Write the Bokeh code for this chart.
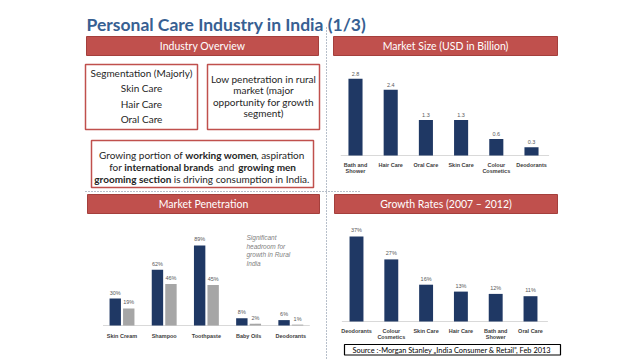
from bokeh.plotting import figure
from bokeh.models import Range1d, ColumnDataSource
from bokeh.core.properties import value
from bokeh.transform import dodge
from bokeh.embed import file_html
from bokeh.resources import INLINE

# ---------------- data ----------------
size_cats = ["Bath and\nShower", "Hair Care", "Oral Care", "Skin Care", "Colour\nCosmetics", "Deodorants"]
size_vals = [2.8, 2.4, 1.3, 1.3, 0.6, 0.3]
size_labels = ["2.8", "2.4", "1.3", "1.3", "0.6", "0.3"]

pen_cats = ["Skin Cream", "Shampoo", "Toothpaste", "Baby Oils", "Deodorants"]
pen_urban = [30, 62, 89, 8, 6]
pen_rural = [19, 46, 45, 2, 1]

growth_cats = ["Deodorants", "Colour\nCosmetics", "Skin Care", "Hair Care", "Bath and\nShower", "Oral Care"]
growth_vals = [37, 27, 16, 13, 12, 11]

# ---------------- styles ----------------
NAVY = "#1F3864"
GREY_BAR = "#A6A6A6"
RED = "#C0504D"
RED_EDGE = "#A43F3C"
TXT = "#262626"
SANS = value("Lato")
ARIAL = value("Liberation Sans")

p = figure(width=638, height=359, x_range=Range1d(0, 638), y_range=Range1d(359, 0),
           output_backend="svg", toolbar_location=None,
           x_axis_location=None, y_axis_location=None, min_border=0,
           outline_line_color=None, background_fill_color="white", border_fill_color="white")
p.grid.visible = False

# title
p.text(x=[86], y=[24], text=["Personal Care Industry in India (1/3)"], text_font=SANS,
       text_font_size="17.5px", text_font_style="bold", text_color="#376092",
       text_align="left", text_baseline="alphabetic")

# dotted separators
p.segment(x0=[326, 85], y0=[27, 191], x1=[326, 359], y1=[359, 191],
          line_color="#6F7F95", line_width=1, line_dash="1 2")

# red banners
p.quad(left=[86, 333, 87, 334], right=[318, 557, 319, 557], top=[36, 36, 194, 194],
       bottom=[55, 55, 213, 213], fill_color=RED, line_color=RED_EDGE, line_width=1)
p.text(x=[202, 445, 203, 445.5], y=[45.5, 45.5, 203.5, 203.5],
       text=["Industry Overview", "Market Size (USD in Billion)", "Market Penetration", "Growth Rates (2007 \u2013 2012)"],
       text_font=SANS, text_font_size="10.5px", text_color="white",
       text_align="center", text_baseline="middle")

# overview boxes
p.quad(left=[85, 207, 91], right=[197, 319, 313], top=[64, 64, 140], bottom=[129, 129, 187],
       fill_color="white", line_color=RED, line_width=1.5)
p.text(x=[90], y=[72], text=["Segmentation (Majorly)"], text_font=SANS, text_font_size="10px",
       text_color=TXT, text_align="left", text_baseline="middle")
p.text(x=[141, 141, 141], y=[87.5, 103, 118.5], text=["Skin Care", "Hair Care", "Oral Care"],
       text_font=SANS, text_font_size="10px", text_color=TXT, text_align="center", text_baseline="middle")
p.text(x=[263] * 4, y=[78, 89.5, 101, 112.5],
       text=["Low penetration in rural", "market (major", "opportunity for growth", "segment)"],
       text_font=SANS, text_font_size="10px", text_color=TXT, text_align="center", text_baseline="middle")

# mixed bold/regular statement (alphabetic baselines)
b1, b2, b3 = 154.5, 166.5, 178
p.text(x=[182.3, 121.3], y=[b1, b2], text=["Growing portion of", "for"],
       text_font=SANS, text_font_size="10px", text_color=TXT, text_align="right", text_baseline="alphabetic")
p.text(x=[255.8, 173.3, 217.8], y=[b1, b3, b2], text=[", aspiration", "is driving consumption in India.", "and"],
       text_font=SANS, text_font_size="10px", text_color=TXT, text_align="left", text_baseline="alphabetic")
p.text(x=[184.8, 123.8], y=[b1, b2], text=["working women", "international brands"],
       text_font=SANS, text_font_size="10px", text_font_style="bold", text_color=TXT,
       text_align="left", text_baseline="alphabetic")
p.text(x=[295.5, 170.8], y=[b2, b3], text=["growing men", "grooming section"],
       text_font=SANS, text_font_size="10px", text_font_style="bold", text_color=TXT,
       text_align="right", text_baseline="alphabetic")

# source box
p.quad(left=[344], right=[560], top=[344], bottom=[354.5], fill_color="white",
       line_color="black", line_width=1.2)
p.text(x=[352], y=[349.5], text=["Source :-Morgan Stanley \u201eIndia Consumer & Retail\u201d, Feb 2013"],
       text_font=SANS, text_font_size="7.4px", text_color="black", text_align="left", text_baseline="middle")


def bar_panel(sub, cats, vals, labels, n):
    src = ColumnDataSource(dict(x=list(range(n)), top=vals, lab=labels, cat=cats))
    sub.segment(x0=[-0.42], x1=[n - 0.5], y0=[0], y1=[0], line_color="#D9D9D9", line_width=1)
    sub.vbar(x="x", top="top", bottom=0, width=0.4, source=src, fill_color=NAVY, line_color=None)
    sub.text(x="x", y="top", text="lab", source=src, y_offset=-3, text_font=ARIAL,
             text_font_size="5.5px", text_color="#595959", text_align="center", text_baseline="bottom")
    sub.text(x="x", y=0, text="cat", source=src, y_offset=6, text_font=ARIAL,
             text_font_size="5.5px", text_font_style="bold", text_color="#404040",
             text_align="center", text_baseline="top", text_line_height=1.15)


# market size chart
ms = p.subplot(x_source=Range1d(-0.5, 5.5), y_source=Range1d(0, 3),
               x_target=Range1d(337.4, 548.6), y_target=Range1d(155, 155 - 3 * 27.4))
bar_panel(ms, size_cats, size_vals, size_labels, len(size_vals))

# growth chart
gr = p.subplot(x_source=Range1d(-0.5, 5.5), y_source=Range1d(0, 40),
               x_target=Range1d(338.6, 547.4), y_target=Range1d(321, 321 - 40 * 2.3))
bar_panel(gr, growth_cats, growth_vals, [f"{v}%" for v in growth_vals], len(growth_vals))

# penetration chart
pe = p.subplot(x_source=Range1d(-0.5, 4.5), y_source=Range1d(0, 100),
               x_target=Range1d(100.4, 311.4), y_target=Range1d(325, 325 - 100 * 0.9))
psrc = ColumnDataSource(dict(x=list(range(len(pen_cats))), u=pen_urban, r=pen_rural,
                             ul=[f"{v}%" for v in pen_urban], rl=[f"{v}%" for v in pen_rural], cat=pen_cats))
pe.segment(x0=[-0.45], x1=[4.45], y0=[0], y1=[0], line_color="#D9D9D9", line_width=1)
pe.vbar(x=dodge("x", -0.16), top="u", bottom=0, width=0.27, source=psrc, fill_color=NAVY, line_color=None)
pe.vbar(x=dodge("x", 0.16), top="r", bottom=0, width=0.27, source=psrc, fill_color=GREY_BAR, line_color=None)
for col, off in (("u", -0.16), ("r", 0.16)):
    pe.text(x=dodge("x", off), y=col, text=col + "l", source=psrc, y_offset=-3, text_font=ARIAL,
            text_font_size="5.5px", text_color="#595959", text_align="center", text_baseline="bottom")
pe.text(x="x", y=0, text="cat", source=psrc, y_offset=7, text_font=ARIAL, text_font_size="5.5px",
        text_font_style="bold", text_color="#404040", text_align="center", text_baseline="top")
p.text(x=[246] * 4, y=[237, 245.5, 254, 262.5], text=["Significant", "headroom for", "growth in Rural", "India"],
       text_font=ARIAL, text_font_size="6.5px", text_font_style="italic", text_color="#7F7F7F",
       text_align="left", text_baseline="middle")

open("out.html", "w").write(file_html(p, INLINE))
